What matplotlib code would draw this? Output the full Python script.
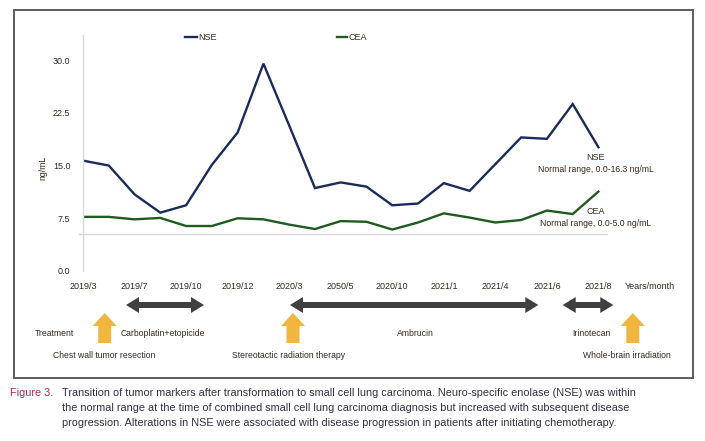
import matplotlib
matplotlib.use("Agg")
import matplotlib.pyplot as plt
from matplotlib.patches import Polygon, Rectangle

plt.rcParams["font.family"] = ["Liberation Sans", "DejaVu Sans"]

# ---------------- data ----------------
x_labels = ["2019/3", "2019/7", "2019/10", "2019/12", "2020/3", "2050/5",
            "2020/10", "2021/1", "2021/4", "2021/6", "2021/8"]
axis_title_x = "Years/month"
nse = [15.7, 15.0, 10.9, 8.3, 9.35, 15.1, 19.7, 29.5, 20.7, 11.8, 12.6,
       12.0, 9.35, 9.6, 12.5, 11.4, 15.2, 19.0, 18.8, 23.75, 17.6]
cea = [7.7, 7.7, 7.35, 7.55, 6.4, 6.4, 7.5, 7.35, 6.6, 5.97, 7.1,
       7.0, 5.9, 6.9, 8.2, 7.6, 6.9, 7.25, 8.6, 8.1, 11.3]
y_ticks = [0.0, 7.5, 15.0, 22.5, 30.0]
cea_ref = 5.2

NAVY = "#1c2a5a"
GREEN = "#1f5a1f"
TXT = "#33291f"
ARROW = "#404040"
ORANGE = "#f1b63e"

W, H = 705, 441
fig = plt.figure(figsize=(W / 100, H / 100), dpi=100)

# main axes in pixel layout
x0px, x1px, ytop, ybot = 83, 650, 35, 271
ax = fig.add_axes([x0px / W, 1 - ybot / H, (x1px - x0px) / W, (ybot - ytop) / H])
ax.set_facecolor("none")
xs = list(range(len(nse)))
l1, = ax.plot(xs, nse, color=NAVY, lw=1.7, label="NSE", solid_joinstyle="miter")
l2, = ax.plot(xs, cea, color=GREEN, lw=1.7, label="CEA", solid_joinstyle="miter")
ax.set_xlim(0, 22)
ax.set_ylim(0, 33.57)
ax.plot([-0.16, 20.33], [cea_ref, cea_ref], color="#d4d4d4", lw=0.9, clip_on=False, zorder=0)

for s in ["top", "right", "bottom"]:
    ax.spines[s].set_visible(False)
ax.spines["left"].set_color("#d9d9d9")
ax.spines["left"].set_linewidth(1.0)
ax.set_yticks(y_ticks)
ax.set_yticklabels([f"{v:.1f}" for v in y_ticks])
ax.set_xticks(list(range(0, 21, 2)) + [22])
ax.set_xticklabels(x_labels + [axis_title_x])
ax.tick_params(axis="both", length=0, labelsize=6.5, colors=TXT)
ax.tick_params(axis="y", pad=9)
ax.tick_params(axis="x", pad=8)
ax.set_ylabel("ng/mL", fontsize=6.3, color=TXT)
ax.yaxis.set_label_coords(-0.0635, 0.436)

fs = 6.5
afs = 6.2
# legend (manual, pixel layout)
ov = fig.add_axes([0, 0, 1, 1], zorder=-1)
ov.set_xlim(0, W)
ov.set_ylim(H, 0)
ov.axis("off")
for (xa, xb), line in [((185, 197), l1), ((337, 347), l2)]:
    ov.plot([xa, xb], [36.7, 36.7], color=line.get_color(), lw=1.7)
    ov.text(xb + 1.5, 37, line.get_label(), ha="left", va="center", fontsize=fs, color=TXT)

ax.text(19.9, 16.2, "NSE", ha="center", va="center", fontsize=fs, color=TXT)
ax.text(19.9, 14.45, "Normal range, 0.0-16.3 ng/mL", ha="center", va="center", fontsize=afs, color=TXT)
ax.text(19.9, 8.5, "CEA", ha="center", va="center", fontsize=fs, color=TXT)
ax.text(19.9, 6.75, "Normal range, 0.0-5.0 ng/mL", ha="center", va="center", fontsize=afs, color=TXT)

ov.add_patch(Rectangle((14, 10), 679.3, 368.3, fill=False, edgecolor="#5c5c5c", lw=1.4))


def dbl_arrow(xa, xb, y, hw=8, hl=13, sw=3):
    pts = [(xa, y), (xa + hl, y - hw), (xa + hl, y - sw), (xb - hl, y - sw), (xb - hl, y - hw),
           (xb, y), (xb - hl, y + hw), (xb - hl, y + sw), (xa + hl, y + sw), (xa + hl, y + hw)]
    ov.add_patch(Polygon(pts, closed=True, facecolor=ARROW, edgecolor="none"))


def up_arrow(xc, yt=313, yb=343, hw=12, hh=13, sw=6.5):
    pts = [(xc, yt), (xc + hw, yt + hh), (xc + sw, yt + hh), (xc + sw, yb),
           (xc - sw, yb), (xc - sw, yt + hh), (xc - hw, yt + hh)]
    ov.add_patch(Polygon(pts, closed=True, facecolor=ORANGE, edgecolor="none"))


dbl_arrow(126, 204, 305)
dbl_arrow(290, 538.3, 305)
dbl_arrow(562.7, 613.3, 305)
up_arrow(104.7)
up_arrow(293)
up_arrow(632.8)

ov.text(54.3, 333, "Treatment", ha="center", va="center", fontsize=afs, color=TXT)
ov.text(163.3, 333, "Carboplatin+etopicide", ha="center", va="center", fontsize=afs, color=TXT)
ov.text(415, 333, "Ambrucin", ha="center", va="center", fontsize=afs, color=TXT)
ov.text(591.7, 333, "Irinotecan", ha="center", va="center", fontsize=afs, color=TXT)
ov.text(104, 355.3, "Chest wall tumor resection", ha="center", va="center", fontsize=afs, color=TXT)
ov.text(289, 355.3, "Stereotactic radiation therapy", ha="center", va="center", fontsize=afs, color=TXT)
ov.text(626.7, 355.3, "Whole-brain irradiation", ha="center", va="center", fontsize=afs, color=TXT)

cfs = 7.85
CAP = "#2f3040"
ov.text(10, 393, "Figure 3.", ha="left", va="center", fontsize=cfs, color="#b3245a")
ov.text(62, 393, "Transition of tumor markers after transformation to small cell lung carcinoma. "
        "Neuro-specific enolase (NSE) was within", ha="left", va="center", fontsize=cfs, color=CAP)
ov.text(62, 408, "the normal range at the time of combined small cell lung carcinoma diagnosis "
        "but increased with subsequent disease", ha="left", va="center", fontsize=cfs, color=CAP)
ov.text(62, 423, "progression. Alterations in NSE were associated with disease progression "
        "in patients after initiating chemotherapy.", ha="left", va="center", fontsize=cfs, color=CAP)

fig.savefig("out.png", dpi=100)
